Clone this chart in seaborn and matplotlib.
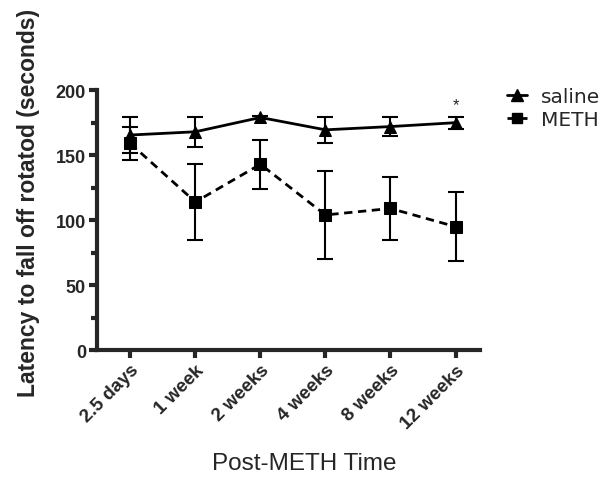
import matplotlib
matplotlib.use("Agg")
import matplotlib.pyplot as plt
import seaborn as sns
import numpy as np
import pandas as pd
from matplotlib.lines import Line2D

categories = ["2.5 days", "1 week", "2 weeks", "4 weeks", "8 weeks", "12 weeks"]
saline_mean = [165.5, 168, 179, 169.5, 172, 175]
saline_err = [14, 11.5, 1, 10, 7.5, 4.5]
meth_mean = [159, 114, 143, 104, 109, 95]
meth_err = [13, 29.5, 19, 33.5, 24.5, 26.7]

sns.set_style("ticks")
plt.rcParams['font.family'] = ['Liberation Sans', 'DejaVu Sans']

df = pd.DataFrame({
    "x": list(range(len(categories))) * 2,
    "y": saline_mean + meth_mean,
    "group": ["saline"] * len(categories) + ["METH"] * len(categories),
})

fig = plt.figure(figsize=(6.11, 4.85), dpi=100)
ax = fig.add_axes([0.159, 0.276, 0.627, 0.536])

sns.lineplot(data=df, x="x", y="y", hue="group", style="group",
             palette={"saline": "black", "METH": "black"},
             markers={"saline": "^", "METH": "s"},
             dashes={"saline": "", "METH": (3, 2)},
             markersize=8, linewidth=2, markeredgecolor="black",
             ax=ax, legend=False)

xs = np.arange(len(categories))
ax.errorbar(xs, saline_mean, yerr=saline_err, fmt="none", ecolor="black",
            elinewidth=1.5, capsize=6, capthick=1.5)
ax.errorbar(xs, meth_mean, yerr=meth_err, fmt="none", ecolor="black",
            elinewidth=1.5, capsize=6, capthick=1.5)

ax.text(5, 183, "*", ha="center", va="bottom", fontsize=12)

ax.set_xlim(-0.51, 5.38)
ax.set_ylim(0, 200)
ax.set_yticks([0, 50, 100, 150, 200])
ax.set_yticks([25, 75, 125, 175], minor=True)
ax.set_xticks(xs)
ax.set_xticklabels(categories, rotation=45, ha="right", rotation_mode="anchor",
                   fontsize=13.5, fontweight="bold")
for lab in ax.get_yticklabels():
    lab.set_fontsize(13)
    lab.set_fontweight("bold")

for side in ["top", "right"]:
    ax.spines[side].set_visible(False)
for side in ["left", "bottom"]:
    ax.spines[side].set_linewidth(3)
ax.tick_params(axis="both", which="major", width=3, length=6, direction="out", pad=2)
ax.tick_params(axis="y", which="minor", width=3, length=4, direction="out")

ax.set_xlabel("Post-METH Time", fontsize=17.5)
ax.xaxis.set_label_coords(0.54, -0.39)
ax.set_ylabel("Latency to fall off rotatod (seconds)", fontsize=16.5,
              fontweight="bold")
ax.yaxis.set_label_coords(-0.15, 0.57)

handles = [Line2D([0], [0], color="black", lw=2, marker="^", markersize=8),
           Line2D([0], [0], color="black", lw=2, ls=(0, (3, 2)), marker="s", markersize=7)]
fig.legend(handles, ["saline", "METH"], loc="upper left",
           bbox_to_anchor=(0.80, 0.855), frameon=False,
           prop={"family": "DejaVu Sans", "size": 14.5},
           handlelength=1.0, handletextpad=0.7, labelspacing=0.2)

fig.savefig("out.png", dpi=100)
